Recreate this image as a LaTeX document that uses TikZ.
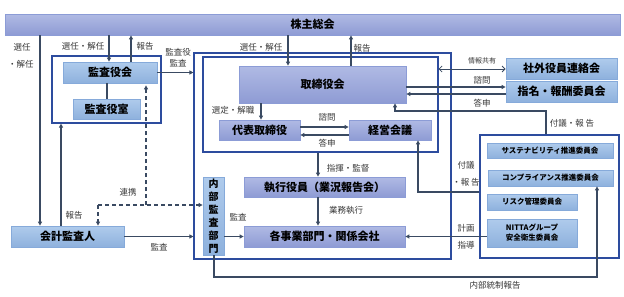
\documentclass[tikz,border=0pt]{standalone}
\usepackage{fontspec}
\setmainfont{Noto Sans CJK JP}
\usetikzlibrary{arrows.meta,calc}
\definecolor{linec}{HTML}{3A4A62}
\definecolor{framec}{HTML}{2D4C9E}
\definecolor{bl1}{HTML}{AFCBEC}
\definecolor{bl2}{HTML}{8EB1DD}
\definecolor{bluebd}{HTML}{86AADA}
\definecolor{pu1}{HTML}{B0BAE4}
\definecolor{pu2}{HTML}{8E9BD4}
\definecolor{pubd}{HTML}{8C9CD6}
\definecolor{labc}{HTML}{383838}
\begin{document}
\begin{tikzpicture}[x=1pt,y=-1pt,
  arr/.style={draw=linec, line width=1.1pt, -{Triangle[length=4pt,width=4pt]}},
  dbl/.style={draw=linec, line width=0.8pt, {Straight Barb[length=3pt,width=6pt]}-{Straight Barb[length=3pt,width=6pt]}},
  ln/.style={draw=linec, line width=1.1pt},
  dsh/.style={draw=linec, line width=1.1pt, dash pattern=on 4pt off 3pt},
  bluebox/.style={draw=bluebd, line width=0.8pt, top color=bl1, bottom color=bl2, font=\fontsize{11}{13}\selectfont\bfseries, text=black, inner sep=0pt, align=center},
  purpbox/.style={draw=pubd, line width=0.8pt, top color=pu1, bottom color=pu2, font=\fontsize{11}{13}\selectfont\bfseries, text=black, inner sep=0pt, align=center},
  smallbox/.style={bluebox, font=\fontsize{7.5}{10}\selectfont\bfseries},
  frame/.style={draw=framec, line width=1.2pt, inner sep=0pt},
  lbl/.style={font=\fontsize{8.5}{10}\selectfont, text=labc, inner sep=0pt},
]
\useasboundingbox (0,0) rectangle (624,297);
\fill[white] (0,0) rectangle (624,297);

% frames
\node[frame, minimum width=109pt, minimum height=67pt] (kframe) at (106.5,89.5) {};
\node[frame, minimum width=257pt, minimum height=206pt] (bigbox) at (322.5,156) {};
\node[frame, minimum width=235pt, minimum height=95pt] (inner) at (320.5,104.5) {};
\node[frame, minimum width=139pt, minimum height=123pt] (comm) at (549.5,196.5) {};

% nodes
\node[purpbox, minimum width=615pt, minimum height=21pt] (soukai) at (312.5,24.5) {株主総会};
\node[bluebox, minimum width=94pt, minimum height=21pt] (kyk) at (110,72.5) {監査役会};
\node[bluebox, minimum width=67pt, minimum height=20pt] (kys) at (106.5,109) {監査役室};
\node[purpbox, minimum width=167pt, minimum height=37pt] (tori) at (322.5,84.5) {取締役会};
\node[purpbox, minimum width=81pt, minimum height=20pt] (daihyo) at (259.5,130) {代表取締役};
\node[purpbox, minimum width=82pt, minimum height=20pt] (keiei) at (390,130) {経営会議};
\node[purpbox, minimum width=161pt, minimum height=20pt] (shikko) at (324.5,187) {執行役員（業況報告会）};
\node[purpbox, minimum width=161pt, minimum height=21pt] (jigyo) at (324.5,236.5) {各事業部門・関係会社};
\node[bluebox, minimum width=21pt, minimum height=78pt, font=\fontsize{10}{13}\selectfont\bfseries] (naibu) at (213.5,216) {内\\部\\監\\査\\部\\門};
\node[bluebox, minimum width=113pt, minimum height=21pt] (kaikei) at (67.5,236.5) {会計監査人};
\node[bluebox, minimum width=111pt, minimum height=21pt] (shagai) at (561.5,68.5) {社外役員連絡会};
\node[bluebox, minimum width=111pt, minimum height=21pt] (shimei) at (561.5,91.5) {指名・報酬委員会};
\node[smallbox, minimum width=126pt, minimum height=15pt] (sus) at (550,150.5) {サステナビリティ推進委員会};
\node[smallbox, minimum width=125pt, minimum height=16pt] (comp) at (550.5,178) {コンプライアンス推進委員会};
\node[smallbox, minimum width=90pt, minimum height=16pt] (risk) at (532,202) {リスク管理委員会};
\node[smallbox, minimum width=90pt, minimum height=28pt] (nitta) at (532,233) {NITTAグループ\\安全衛生委員会};

% helper coordinates
\coordinate (c40) at (40,0);
\coordinate (c61) at (61,0);
\coordinate (c107) at (107,0);
\coordinate (c109) at (109,0);
\coordinate (c131) at (131,0);
\coordinate (c261) at (261,0);
\coordinate (c288) at (288,0);
\coordinate (c318) at (318,0);
\coordinate (c351) at (351,0);
\coordinate (c395) at (395,0);
\coordinate (c418) at (418,0);
\coordinate (c546) at (546,0);
\coordinate (c597) at (597,0);
\coordinate (c214) at (214,0);
\coordinate (r69) at (0,69);
\coordinate (r87) at (0,87);
\coordinate (r94) at (0,94);
\coordinate (r111) at (0,111);
\coordinate (r127) at (0,127);
\coordinate (r135) at (0,135);
\coordinate (r192) at (0,192);
\coordinate (r277) at (0,277);
\coordinate (d1) at (98,205);
\coordinate (d2) at (146,205);

% connectors
\draw[arr] (soukai.south -| c40) -- (kaikei.north -| c40);
\draw[arr] (soukai.south -| c109) -- (kyk.north -| c109);
\draw[arr] (kyk.north -| c131) -- (soukai.south -| c131);
\draw[ln] (kyk.south -| c107) -- (kys.north -| c107);
\draw[arr] (kyk.east) -- (kyk.east -| bigbox.west);
\draw[arr] (kaikei.north -| c61) -- (kframe.south -| c61);
\draw[arr] (kaikei.east) -- (kaikei.east -| bigbox.west);
\draw[dsh, -{Triangle[length=4pt,width=4pt]}] (d1) -- (kaikei.north -| d1);
\draw[dsh, -{Triangle[length=4pt,width=4pt]}] (d1) -- (naibu.west |- d1);
\draw[dsh, -{Triangle[length=4pt,width=4pt]}, shorten >=2pt] (d2) -- (kyk.south -| d2);
\draw[arr] (soukai.south -| c288) -- (tori.north -| c288);
\draw[arr] (tori.north -| c351) -- (soukai.south -| c351);
\draw[arr] (tori.south -| c261) -- (daihyo.north -| c261);
\draw[arr] (daihyo.east |- r127) -- (keiei.west |- r127);
\draw[arr] (keiei.west |- r135) -- (daihyo.east |- r135);
\draw[arr] (inner.south -| c318) -- (shikko.north -| c318);
\draw[arr] (shikko.south -| c318) -- (jigyo.north -| c318);
\draw[arr] (naibu.east |- jigyo.west) -- (jigyo.west);
\draw[arr] (nitta.west |- jigyo.east) -- (jigyo.east);
\draw[arr] (naibu.south -| c214) -- (c214 |- r277) -- (c597 |- r277) -- (comp.south -| c597);
\draw[arr] (comm.west |- r192) -- (c418 |- r192) -- (keiei.south -| c418);
\draw[arr] (comm.north -| c546) -- (c546 |- r111) -- (c395 |- r111) -- (tori.south -| c395);
\draw[dbl] (inner.east |- r69) -- (shagai.west |- r69);
\draw[arr] (tori.east |- r87) -- (shimei.west |- r87);
\draw[arr] (shimei.west |- r94) -- (tori.east |- r94);

% labels
\node[lbl] (l1) at (22,47) {選任};
\node[lbl] (l2) at (21,64) {・解任};
\node[lbl] (l3) at (83,46) {選任・解任};
\node[lbl] (l4) at (145,46) {報告};
\node[lbl] (l5) at (178,52) {監査役};
\node[lbl] (l6) at (178,63) {監査};
\node[lbl] (l7) at (74,215) {報告};
\node[lbl] (l8) at (128,192) {連携};
\node[lbl] (l9) at (159,247) {監査};
\node[lbl] (l10) at (261,47) {選任・解任};
\node[lbl] (l11) at (362,48) {報告};
\node[lbl] (l12) at (233,110) {選定・解職};
\node[lbl] (l13) at (327,117) {諮問};
\node[lbl] (l14) at (327,143) {答申};
\node[lbl] (l15) at (348,168) {指揮・監督};
\node[lbl] (l16) at (346,210) {業務執行};
\node[lbl] (l17) at (238,217) {監査};
\node[lbl, font=\fontsize{7}{8}\selectfont] (l18) at (482,61) {情報共有};
\node[lbl] (l19) at (482,80) {諮問};
\node[lbl] (l20) at (482,103) {答申};
\node[lbl] (l21) at (572,123) {付議・報 告};
\node[lbl] (l22) at (466,165) {付議};
\node[lbl] (l23) at (466,182) {・報 告};
\node[lbl] (l24) at (466,228) {計画};
\node[lbl] (l25) at (466,245) {指導};
\node[lbl] (l26) at (495,285) {内部統制報告};
\end{tikzpicture}
\end{document}
